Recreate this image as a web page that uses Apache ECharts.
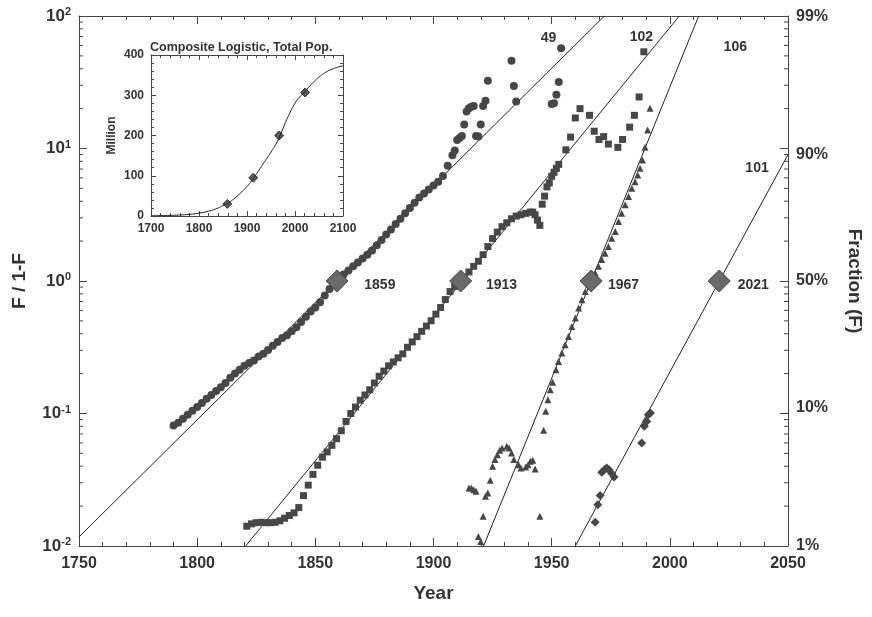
<!DOCTYPE html>
<html>
<head>
<meta charset="utf-8">
<script src="https://cdn.jsdelivr.net/npm/echarts@6/dist/echarts.min.js"></script>
<style>html,body{margin:0;padding:0;background:#fff}#c{width:872px;height:617px}</style>
</head>
<body>
<div id="c"></div>
<script>
// ---- main chart data: [year, F/(1-F)] ----
const circles = [
[1790,0.0813],[1792,0.0851],[1794,0.0912],[1796,0.0977],[1798,0.105],[1800,0.112],[1802,0.120],[1804,0.129],[1806,0.138],[1808,0.148],
[1810,0.158],[1812,0.170],[1814,0.186],[1816,0.200],[1818,0.214],[1820,0.229],[1822,0.240],[1824,0.251],[1826,0.269],[1828,0.282],
[1830,0.302],[1832,0.324],[1834,0.347],[1836,0.372],[1838,0.389],[1840,0.417],[1842,0.447],[1844,0.490],[1846,0.537],[1848,0.589],
[1850,0.631],[1852,0.692],[1854,0.776],[1856,0.871],[1858,0.955],[1860,1.05],[1862,1.12],[1864,1.20],[1866,1.29],[1868,1.38],
[1870,1.48],[1872,1.58],[1874,1.70],[1876,1.86],[1878,2.04],[1880,2.24],[1882,2.45],[1884,2.69],[1886,2.95],[1888,3.24],
[1890,3.55],[1892,3.89],[1894,4.27],[1896,4.57],[1898,4.90],[1900,5.25],[1902,5.6],[1904,6.2],[1906,7.41],[1908,8.91],
[1909,9.64],[1910,11.6],[1911,12.0],[1912,12.4],[1913,15.2],[1914,19.0],[1915,20.1],[1916,20.7],[1917,20.9],[1918,12.4],
[1919,12.3],[1920,15.2],[1921,20.9],[1922,22.9],[1923,32.4],[1933,46.0],[1934,29.6],[1935,22.6],[1950,21.7],[1951,22.0],
[1952,25.4],[1953,31.8],[1954,57.0]
];
const squares = [
[1821,0.0141],[1823,0.0147],[1825,0.0150],[1827,0.0151],[1829,0.0150],[1831,0.0150],[1833,0.0151],[1835,0.0155],[1837,0.0162],[1839,0.0170],
[1841,0.0178],[1843,0.0195],[1845,0.0240],[1847,0.0288],[1849,0.0347],[1851,0.0407],[1853,0.0468],[1855,0.0513],[1857,0.0575],[1859,0.0646],
[1861,0.0741],[1863,0.0871],[1865,0.100],[1867,0.112],[1869,0.126],[1871,0.138],[1873,0.151],[1875,0.170],[1877,0.191],[1879,0.209],
[1881,0.229],[1883,0.245],[1885,0.263],[1887,0.282],[1889,0.316],[1891,0.347],[1893,0.380],[1895,0.417],[1897,0.457],[1899,0.501],
[1901,0.562],[1903,0.631],[1905,0.724],[1907,0.832],[1909,0.912],[1911,1.00],[1913,1.07],[1915,1.17],[1917,1.29],[1919,1.41],
[1921,1.58],[1923,1.82],[1925,2.09],[1927,2.34],[1929,2.57],[1931,2.75],[1933,2.95],[1935,3.09],[1937,3.16],[1939,3.24],
[1941,3.31],[1942,3.31],[1943,3.16],[1944,2.88],[1945,2.63],[1946,3.80],[1947,4.37],[1948,5.13],[1949,5.50],[1950,6.17],
[1951,6.61],[1952,7.08],[1953,7.59],[1956,9.77],[1958,12.2],[1960,17.0],[1962,20.0],[1966,17.8],[1968,13.5],[1970,11.7],
[1972,12.3],[1974,10.8],[1978,10.2],[1980,11.7],[1983,14.5],[1985,17.8],[1987,24.5],[1989,53.7]
];
const triangles = [
[1915,0.0274],[1916,0.0274],[1917,0.0266],[1918,0.0259],[1919,0.0118],[1920,0.0108],[1921,0.0168],[1922,0.0237],[1923,0.0251],[1924,0.0313],
[1925,0.0399],[1926,0.0449],[1927,0.0489],[1928,0.0527],[1929,0.0550],[1931,0.0565],[1932,0.0550],[1933,0.0504],[1934,0.0449],[1936,0.0411],
[1937,0.0388],[1939,0.0395],[1940,0.0411],[1941,0.0436],[1942,0.0444],[1943,0.0381],[1945,0.0168],
[1946.6,0.0747],[1947.5,0.104],[1948.4,0.127],[1949.4,0.151],[1950.4,0.172],[1951.8,0.214],[1952.9,0.247],[1954.3,0.286],[1955.7,0.330],[1957.1,0.381],
[1958.5,0.454],[1960.0,0.525],[1961.4,0.625],[1962.8,0.722],[1964.2,0.834],[1965.6,0.936],[1968.4,1.15],[1969.8,1.29],[1971.2,1.45],[1972.6,1.62],
[1974.0,1.82],[1975.4,2.10],[1976.9,2.36],[1978.3,2.81],[1979.6,3.25],[1981.1,3.76],[1982.5,4.34],[1983.9,5.02],[1985.3,5.62],[1986.4,6.32],
[1987.4,7.10],[1988.4,8.20],[1989.5,10.2],[1990.6,13.8],[1991.6,20.1]
];
const smallDiamonds = [
[1968.4,0.0151],[1969.5,0.0205],[1970.5,0.0240],[1971.2,0.0360],[1972.3,0.0377],[1973.3,0.0388],[1974.3,0.0377],[1975.4,0.0352],[1976.4,0.0332],
[1988.1,0.0600],[1989.2,0.080],[1990.2,0.0871],[1990.9,0.098],[1991.8,0.101]
];
// fitted Fisher-Pry lines (two end points each)
const fitLine1 = [[1750,0.0117],[1972.3,100]];
const fitLine2 = [[1820.5,0.01],[2004,100]];
const fitLine3 = [[1921.2,0.01],[2012.2,100]];
const fitLine4 = [[1960,0.01],[2050,9.0]];
// midpoints (F = 50%)
const midpoints = [[1859.2,1],[1911.5,1],[1966.7,1],[2020.9,1]];
// annotations
const annotTexts = ['1859','1913','1967','2021','49','102','106','101'];
const annotX = [1877.3,1928.8,1980.4,2035.3,1948.7,1988.0,2027.7,2036.9];
const annotY = [0.93,0.93,0.93,0.93,68.2,69.5,58.4,7.14];
// right axis (fraction) labels
const fractionLabels = ['99%','90%','50%','10%','1%'];
const fractionValues = [0.99,0.90,0.50,0.10,0.01];
// log minor ticks
const logMinorTicks = [0.02,0.03,0.04,0.05,0.06,0.07,0.08,0.09,0.2,0.3,0.4,0.5,0.6,0.7,0.8,0.9,2,3,4,5,6,7,8,9,20,30,40,50,60,70,80,90];

// ---- inset data ----
const popYears = [1700,1720,1740,1760,1780,1800,1820,1840,1850,1860,1870,1880,1890,1900,1910,1920,1930,1940,1950,1960,1970,1980,1990,2000,2010,2020,2030,2040,2050,2060,2070,2080,2090,2100];
const popValues = [0.5,1,1.5,2.5,4,7,12,20,26,32,40,50,61,73,88,105,123,141,159,178,203,232,258,280,296,308,322,334,345,354,361,366,370,373];
const popPointYears = [1859,1913,1967,2021];
const popPointValues = [30,95,200,307];

const FONT = '"Liberation Sans", Arial, Helvetica, sans-serif';
const TXT = '#333';
const AX = '#444';
const MARK = '#474747';

const chart = echarts.init(document.getElementById('c'), null, {renderer: 'canvas'});

function plain(v) { return String(v); }

function tickAxisX(grid, pos, showLabel, min, max, interval, split, fs) {
  return {
    gridIndex: grid, type: 'value', position: pos, min: min, max: max, interval: interval,
    axisLine: {show: true, onZero: false, lineStyle: {color: AX, width: 1}},
    axisTick: {show: true, inside: true, length: grid === 0 ? 8 : 5, lineStyle: {color: AX}},
    minorTick: {show: true, splitNumber: split, length: grid === 0 ? 4 : 3, lineStyle: {color: AX}},
    splitLine: {show: false},
    axisLabel: {show: showLabel, formatter: plain, color: TXT, fontFamily: FONT, fontWeight: 'bold', fontSize: fs, margin: grid === 0 ? 10 : 7}
  };
}

const option = {
  animation: false,
  backgroundColor: '#fff',
  textStyle: {fontFamily: FONT},
  title: {
    text: 'Composite Logistic, Total Pop.',
    left: 145, top: 36,
    textStyle: {fontFamily: FONT, fontWeight: 'bold', fontSize: 12.5, color: TXT}
  },
  grid: [
    {left: 79, right: 82, top: 16, bottom: 71},
    {left: 151, top: 55, width: 192, height: 161}
  ],
  xAxis: [
    Object.assign(tickAxisX(0, 'bottom', true, 1750, 2050, 50, 5, 16), {
      name: 'Year', nameLocation: 'middle', nameGap: 38,
      nameTextStyle: {fontFamily: FONT, fontWeight: 'bold', fontSize: 19, color: TXT}
    }),
    tickAxisX(0, 'top', false, 1750, 2050, 50, 5, 16),
    tickAxisX(1, 'bottom', true, 1700, 2100, 100, 5, 12),
    tickAxisX(1, 'top', false, 1700, 2100, 100, 5, 12)
  ],
  yAxis: [
    {
      gridIndex: 0, type: 'log', logBase: 10, min: 0.01, max: 100, position: 'left',
      name: 'F / 1-F', nameLocation: 'middle', nameGap: 50,
      nameTextStyle: {fontFamily: FONT, fontWeight: 'bold', fontSize: 19, color: TXT},
      axisLine: {show: true, lineStyle: {color: AX}},
      axisTick: {show: true, inside: true, length: 8, lineStyle: {color: AX}},
      splitLine: {show: false},
      axisLabel: {
        color: TXT, fontFamily: FONT, fontWeight: 'bold', fontSize: 17, margin: 8,
        formatter: function (v) { return '10{s|' + Math.round(Math.log10(v)) + '}'; },
        rich: {s: {fontFamily: FONT, fontWeight: 'bold', fontSize: 11, color: TXT, verticalAlign: 'top', padding: [0, 0, 8, 0]}}
      }
    },
    {
      gridIndex: 0, type: 'log', logBase: 10, min: 0.01, max: 100, position: 'right',
      name: 'Fraction (F)', nameLocation: 'middle', nameGap: 57, nameRotate: -90,
      nameTextStyle: {fontFamily: FONT, fontWeight: 'bold', fontSize: 19, color: TXT},
      axisLine: {show: true, lineStyle: {color: AX}},
      axisTick: {show: true, inside: true, length: 8, lineStyle: {color: AX}},
      splitLine: {show: false},
      axisLabel: {show: false}
    },
    {
      gridIndex: 1, type: 'value', min: 0, max: 400, interval: 100, position: 'left',
      name: 'Million', nameLocation: 'middle', nameGap: 33,
      nameTextStyle: {fontFamily: FONT, fontWeight: 'bold', fontSize: 12, color: TXT},
      axisLine: {show: true, lineStyle: {color: AX}},
      axisTick: {show: true, inside: true, length: 5, lineStyle: {color: AX}},
      minorTick: {show: true, splitNumber: 5, length: 3, lineStyle: {color: AX}},
      splitLine: {show: false},
      axisLabel: {color: TXT, fontFamily: FONT, fontWeight: 'bold', fontSize: 12, margin: 7}
    },
    {
      gridIndex: 1, type: 'value', min: 0, max: 400, interval: 100, position: 'right',
      axisLine: {show: true, lineStyle: {color: AX}},
      axisTick: {show: true, inside: true, length: 5, lineStyle: {color: AX}},
      minorTick: {show: true, splitNumber: 5, length: 3, lineStyle: {color: AX}},
      splitLine: {show: false},
      axisLabel: {show: false}
    }
  ],
  series: [
    // log minor ticks on left & right edges
    {
      type: 'custom', xAxisIndex: 0, yAxisIndex: 0, silent: true, z: 10,
      data: logMinorTicks.map(function (v) { return [1750, v]; }),
      encode: {x: 0, y: 1},
      renderItem: function (params, api) {
        const v = api.value(1);
        const pl = api.coord([1750, v]);
        const pr = api.coord([2050, v]);
        return {type: 'group', children: [
          {type: 'line', shape: {x1: pl[0], y1: pl[1], x2: pl[0] + 4, y2: pl[1]}, style: {stroke: AX, lineWidth: 1}},
          {type: 'line', shape: {x1: pr[0], y1: pr[1], x2: pr[0] - 4, y2: pr[1]}, style: {stroke: AX, lineWidth: 1}}
        ]};
      }
    },
    {type: 'line', xAxisIndex: 0, yAxisIndex: 0, data: fitLine1, showSymbol: false, lineStyle: {color: '#222', width: 1}, z: 2},
    {type: 'line', xAxisIndex: 0, yAxisIndex: 0, data: fitLine2, showSymbol: false, lineStyle: {color: '#222', width: 1}, z: 2},
    {type: 'line', xAxisIndex: 0, yAxisIndex: 0, data: fitLine3, showSymbol: false, lineStyle: {color: '#222', width: 1}, z: 2},
    {type: 'line', xAxisIndex: 0, yAxisIndex: 0, data: fitLine4, showSymbol: false, lineStyle: {color: '#222', width: 1}, z: 2},
    {type: 'scatter', xAxisIndex: 0, yAxisIndex: 0, data: circles, symbol: 'circle', symbolSize: 8, itemStyle: {color: MARK, opacity: 1}, z: 3},
    {type: 'scatter', xAxisIndex: 0, yAxisIndex: 0, data: squares, symbol: 'rect', symbolSize: 7, itemStyle: {color: MARK, opacity: 1}, z: 3},
    {type: 'scatter', xAxisIndex: 0, yAxisIndex: 0, data: triangles, symbol: 'triangle', symbolSize: 7, itemStyle: {color: MARK, opacity: 1}, z: 3},
    {type: 'scatter', xAxisIndex: 0, yAxisIndex: 0, data: smallDiamonds, symbol: 'diamond', symbolSize: 9, itemStyle: {color: MARK, opacity: 1}, z: 3},
    {type: 'scatter', xAxisIndex: 0, yAxisIndex: 0, data: midpoints, symbol: 'diamond', symbolSize: 22,
      itemStyle: {color: '#6a6a6a', borderColor: '#444', borderWidth: 1, opacity: 1}, z: 4},
    {
      type: 'scatter', xAxisIndex: 0, yAxisIndex: 0, symbolSize: 0, silent: true, clip: false, z: 5,
      itemStyle: {opacity: 1},
      data: annotTexts.map(function (t, i) { return [annotX[i], annotY[i], t]; }),
      label: {show: true, position: 'inside', color: TXT, fontFamily: FONT, fontWeight: 'bold', fontSize: 14,
        formatter: function (p) { return p.data[2]; }}
    },
    {
      type: 'scatter', xAxisIndex: 0, yAxisIndex: 0, symbolSize: 0, silent: true, clip: false, z: 5,
      itemStyle: {opacity: 1},
      data: fractionValues.map(function (f, i) { return [2050, f / (1 - f), fractionLabels[i]]; }),
      label: {show: true, position: 'right', distance: 8, color: TXT, fontFamily: FONT, fontWeight: 'bold', fontSize: 16,
        formatter: function (p) { return p.data[2]; }}
    },
    // inset
    {type: 'line', xAxisIndex: 2, yAxisIndex: 2, data: popYears.map(function (y, i) { return [y, popValues[i]]; }),
      smooth: true, showSymbol: false, lineStyle: {color: '#222', width: 1}},
    {type: 'scatter', xAxisIndex: 2, yAxisIndex: 2, data: popPointYears.map(function (y, i) { return [y, popPointValues[i]]; }),
      symbol: 'diamond', symbolSize: 9, itemStyle: {color: '#5a5a5a', borderColor: '#333', borderWidth: 1, opacity: 1}}
  ]
};
chart.setOption(option);
</script>
</body>
</html>
